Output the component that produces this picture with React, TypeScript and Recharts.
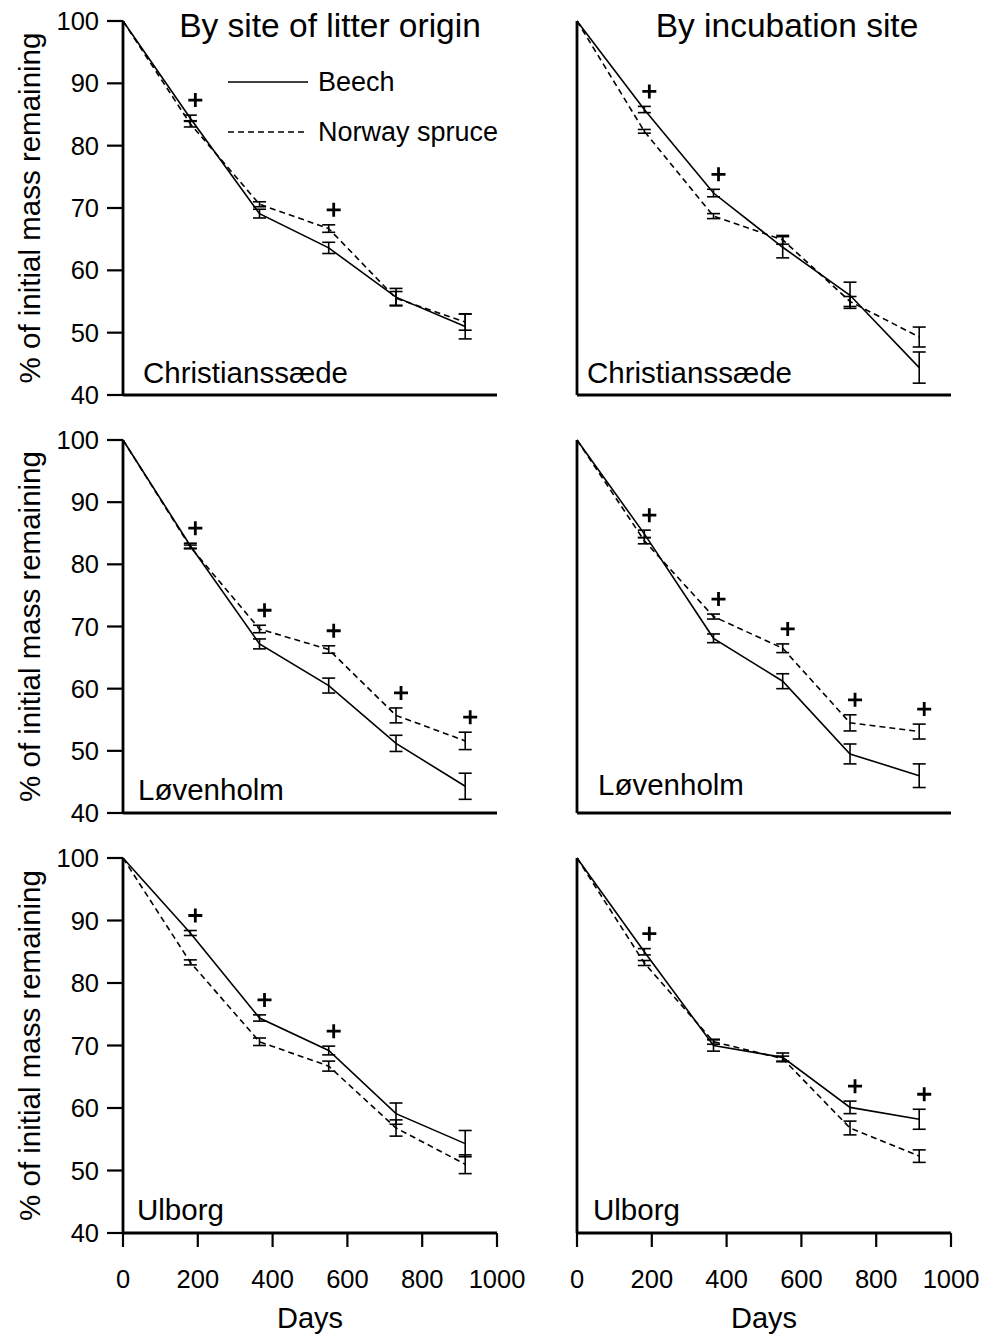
import React from "react";
import { LineChart, Line, XAxis, YAxis, ErrorBar, Label, Legend } from "recharts";

// sampling days and axis ticks
const days = [0, 180, 365, 550, 730, 915];
const dayTicks = [0, 200, 400, 600, 800, 1000];
const massTicks = [40, 50, 60, 70, 80, 90, 100];

// By site of litter origin
const originChrBeech = [100, 84.4, 69.1, 63.6, 55.7, 51.0];
const originChrBeechErr = [0, 0.5, 0.7, 0.9, 1.4, 2.0];
const originChrSpruce = [100, 83.5, 70.6, 66.7, 55.5, 51.7];
const originChrSpruceErr = [0, 0.5, 0.4, 0.6, 1.1, 1.3];
const originChrSig = [0, 1, 0, 1, 0, 0];

const originLovBeech = [100, 83.0, 67.2, 60.5, 51.2, 44.3];
const originLovBeechErr = [0, 0.4, 0.8, 1.2, 1.3, 2.1];
const originLovSpruce = [100, 82.8, 69.6, 66.3, 55.7, 51.6];
const originLovSpruceErr = [0, 0.3, 0.6, 0.6, 1.2, 1.4];
const originLovSig = [0, 1, 1, 1, 1, 1];

const originUlbBeech = [100, 88.0, 74.4, 69.2, 59.1, 54.3];
const originUlbBeechErr = [0, 0.4, 0.5, 0.7, 1.7, 2.1];
const originUlbSpruce = [100, 83.3, 70.6, 66.7, 56.8, 51.0];
const originUlbSpruceErr = [0, 0.4, 0.6, 0.8, 1.3, 1.5];
const originUlbSig = [0, 1, 1, 1, 0, 0];

// By incubation site
const incChrBeech = [100, 85.8, 72.4, 63.7, 56.0, 44.4];
const incChrBeechErr = [0, 0.5, 0.6, 1.7, 2.1, 2.5];
const incChrSpruce = [100, 82.3, 68.7, 64.9, 55.0, 49.3];
const incChrSpruceErr = [0, 0.3, 0.4, 0.7, 0.8, 1.6];
const incChrSig = [0, 1, 1, 0, 0, 0];

const incLovBeech = [100, 84.9, 68.1, 61.2, 49.5, 46.0];
const incLovBeechErr = [0, 0.6, 0.7, 1.2, 1.6, 1.9];
const incLovSpruce = [100, 83.8, 71.6, 66.5, 54.5, 53.1];
const incLovSpruceErr = [0, 0.5, 0.4, 0.7, 1.3, 1.2];
const incLovSig = [0, 1, 1, 1, 1, 1];

const incUlbBeech = [100, 85.0, 70.0, 68.1, 60.1, 58.2];
const incUlbBeechErr = [0, 0.5, 0.9, 0.7, 1.0, 1.6];
const incUlbSpruce = [100, 83.2, 70.6, 67.9, 56.8, 52.3];
const incUlbSpruceErr = [0, 0.4, 0.4, 0.4, 1.1, 1.0];
const incUlbSig = [0, 1, 0, 0, 1, 1];

const FONT = "'Liberation Sans', Arial, Helvetica, sans-serif";

const buildRows = (beech, beechErr, spruce, spruceErr, sig) =>
  days.map((day, i) => ({
    day,
    beech: beech[i],
    beechErr: beechErr[i] || null,
    spruce: spruce[i],
    spruceErr: spruceErr[i] || null,
    plusAt: sig[i] ? Math.max(beech[i] + beechErr[i], spruce[i] + spruceErr[i]) : null,
  }));

// left charts are wider than their column so "1000" is not clipped
const cols = [
  { left: 0, width: 545, mLeft: 63, mRight: 48 },
  { left: 500, width: 484, mLeft: 17, mRight: 33 },
];
const rows = [
  { top: 0, height: 420, mTop: 21, mBottom: 5, xH: 20 },
  { top: 420, height: 420, mTop: 20, mBottom: 7, xH: 20 },
  { top: 840, height: 497, mTop: 18, mBottom: 44, xH: 60 },
];

const panels = [
  { col: 0, row: 0, site: "Christianssæde", siteX: 143, siteY: 383, title: "By site of litter origin", titleX: 330, legend: true,
    data: buildRows(originChrBeech, originChrBeechErr, originChrSpruce, originChrSpruceErr, originChrSig) },
  { col: 1, row: 0, site: "Christianssæde", siteX: 87, siteY: 383, title: "By incubation site", titleX: 287,
    data: buildRows(incChrBeech, incChrBeechErr, incChrSpruce, incChrSpruceErr, incChrSig) },
  { col: 0, row: 1, site: "Løvenholm", siteX: 138, siteY: 380,
    data: buildRows(originLovBeech, originLovBeechErr, originLovSpruce, originLovSpruceErr, originLovSig) },
  { col: 1, row: 1, site: "Løvenholm", siteX: 98, siteY: 375,
    data: buildRows(incLovBeech, incLovBeechErr, incLovSpruce, incLovSpruceErr, incLovSig) },
  { col: 0, row: 2, site: "Ulborg", siteX: 137, siteY: 380,
    data: buildRows(originUlbBeech, originUlbBeechErr, originUlbSpruce, originUlbSpruceErr, originUlbSig) },
  { col: 1, row: 2, site: "Ulborg", siteX: 93, siteY: 380,
    data: buildRows(incUlbBeech, incUlbBeechErr, incUlbSpruce, incUlbSpruceErr, incUlbSig) },
];

const PlusDot = (props) => {
  const { cx, cy, payload, index } = props;
  if (payload == null || payload.plusAt == null || cx == null || cy == null) {
    return <g key={`plus-${index}`} />;
  }
  const x = cx + 5;
  const y = cy - 15;
  return (
    <path
      key={`plus-${index}`}
      d={`M${x - 7},${y}H${x + 7}M${x},${y - 7}V${y + 7}`}
      stroke="#000"
      strokeWidth={2.8}
      fill="none"
    />
  );
};

const renderLegend = (props) => {
  const items = (props.payload || []).filter((p) => p.type !== "none" && p.value !== "plusAt");
  return (
    <div style={{ fontFamily: FONT, fontSize: 27, color: "#000" }}>
      {items.map((entry) => (
        <div key={entry.value} style={{ display: "flex", alignItems: "center", height: 50 }}>
          <svg width={82} height={4}>
            <line
              x1={0}
              x2={80}
              y1={2}
              y2={2}
              stroke="#000"
              strokeWidth={1.5}
              strokeDasharray={entry.payload && entry.payload.strokeDasharray}
            />
          </svg>
          <span style={{ marginLeft: 8, lineHeight: 1 }}>{entry.value}</span>
        </div>
      ))}
    </div>
  );
};

const yLabel = (props) => {
  const vb = props.viewBox || {};
  const cy = vb.y + vb.height / 2;
  return (
    <text x={40} y={cy} transform={`rotate(-90 40 ${cy})`} textAnchor="middle" fontSize={29.5} fill="#000" fontFamily={FONT}>
      % of initial mass remaining
    </text>
  );
};

const xLabel = (props) => {
  const vb = props.viewBox || {};
  const cx = vb.x + vb.width / 2;
  return (
    <text x={cx} y={vb.y + 95} textAnchor="middle" fontSize={29} fill="#000" fontFamily={FONT}>
      Days
    </text>
  );
};

const axisLine = { stroke: "#000", strokeWidth: 2.8 };
const tickLine = { stroke: "#000", strokeWidth: 2.2 };
const tickStyle = { fill: "#000", fontSize: 25.5, fontFamily: FONT };

const Panel = ({ p }) => {
  const c = cols[p.col];
  const r = rows[p.row];
  const bottomRow = p.row === 2;
  return (
    <div style={{ position: "absolute", left: c.left, top: r.top }}>
      <LineChart
        width={c.width}
        height={r.height}
        data={p.data}
        margin={{ top: r.mTop, right: c.mRight, bottom: r.mBottom, left: c.mLeft }}
      >
        <XAxis
          dataKey="day"
          type="number"
          domain={[0, 1000]}
          ticks={dayTicks}
          interval={0}
          height={r.xH}
          tickSize={14}
          tickMargin={23}
          axisLine={axisLine}
          tickLine={tickLine}
          tick={bottomRow ? tickStyle : false}
        >
          {bottomRow && <Label content={xLabel} />}
        </XAxis>
        <YAxis
          type="number"
          domain={[40, 100]}
          ticks={massTicks}
          interval={0}
          width={60}
          tickSize={16}
          tickMargin={8}
          axisLine={axisLine}
          tickLine={tickLine}
          tick={p.col === 0 ? tickStyle : false}
        >
          {p.col === 0 && <Label content={yLabel} />}
        </YAxis>
        {p.legend && (
          <Legend
            layout="horizontal"
            verticalAlign="middle"
            align="center"
            content={renderLegend}
            wrapperStyle={{ left: 228, top: 57, width: "auto" }}
          />
        )}
        <Line
          name="Beech"
          dataKey="beech"
          type="linear"
          stroke="#000"
          strokeWidth={1.6}
          dot={false}
          activeDot={false}
          isAnimationActive={false}
        >
          <ErrorBar dataKey="beechErr" direction="y" width={6.5} stroke="#000" strokeWidth={1.6} />
        </Line>
        <Line
          name="Norway spruce"
          dataKey="spruce"
          type="linear"
          stroke="#000"
          strokeWidth={1.6}
          strokeDasharray="6 4"
          dot={false}
          activeDot={false}
          isAnimationActive={false}
        >
          <ErrorBar dataKey="spruceErr" direction="y" width={6.5} stroke="#000" strokeWidth={1.6} />
        </Line>
        <Line
          dataKey="plusAt"
          stroke="none"
          legendType="none"
          dot={(props) => <PlusDot {...props} />}
          activeDot={false}
          isAnimationActive={false}
        />
        {p.title && (
          <text x={p.titleX} y={37} textAnchor="middle" fontSize={33.5} fill="#000" fontFamily={FONT}>
            {p.title}
          </text>
        )}
        <text x={p.siteX} y={p.siteY} fontSize={29.5} fill="#000" fontFamily={FONT}>
          {p.site}
        </text>
      </LineChart>
    </div>
  );
};

const App = () => (
  <div
    style={{
      position: "absolute",
      left: 0,
      top: 0,
      width: 984,
      height: 1337,
      background: "#fff",
      fontFamily: FONT,
    }}
  >
    {panels.map((p, i) => (
      <Panel key={i} p={p} />
    ))}
  </div>
);

export default App;
